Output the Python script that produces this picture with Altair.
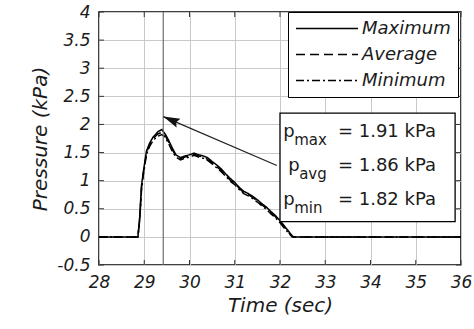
import math
import altair as alt
import pandas as pd

# ---------------- data ----------------
time_s = [28.0, 28.86, 28.9, 28.94, 28.98, 29.05, 29.12, 29.2, 29.3, 29.39, 29.47,
          29.55, 29.62, 29.7, 29.8, 29.9, 30.0, 30.1, 30.2, 30.3, 30.4, 30.5, 30.6,
          30.7, 30.8, 30.9, 31.0, 31.1, 31.2, 31.3, 31.4, 31.5, 31.6, 31.7, 31.8,
          31.9, 32.0, 32.1, 32.2, 32.27, 32.3, 33.0, 34.0, 35.0, 36.0]
p_max = [0.0, 0.0, 0.36, 0.92, 1.16, 1.53, 1.67, 1.78, 1.87, 1.91, 1.82,
         1.70, 1.58, 1.46, 1.41, 1.44, 1.46, 1.49, 1.46, 1.44, 1.41, 1.34, 1.28,
         1.21, 1.12, 1.04, 0.97, 0.88, 0.81, 0.77, 0.72, 0.66, 0.59, 0.53, 0.45,
         0.38, 0.29, 0.19, 0.09, 0.02, 0.0, 0.0, 0.0, 0.0, 0.0]
p_avg = [0.0, 0.0, 0.33, 0.88, 1.13, 1.50, 1.64, 1.75, 1.83, 1.86, 1.79,
         1.67, 1.55, 1.44, 1.39, 1.42, 1.44, 1.47, 1.44, 1.42, 1.38, 1.32, 1.25,
         1.18, 1.10, 1.01, 0.95, 0.86, 0.79, 0.75, 0.70, 0.64, 0.57, 0.51, 0.43,
         0.36, 0.27, 0.17, 0.07, 0.01, 0.0, 0.0, 0.0, 0.0, 0.0]
p_min = [0.0, 0.0, 0.30, 0.84, 1.10, 1.47, 1.61, 1.72, 1.79, 1.82, 1.76,
         1.64, 1.52, 1.42, 1.37, 1.40, 1.42, 1.45, 1.42, 1.40, 1.36, 1.30, 1.23,
         1.16, 1.08, 0.99, 0.93, 0.84, 0.77, 0.73, 0.68, 0.62, 0.55, 0.49, 0.41,
         0.34, 0.25, 0.15, 0.06, 0.0, 0.0, 0.0, 0.0, 0.0, 0.0]
series_names = ["Maximum", "Average", "Minimum"]

x_ticks = [28, 29, 30, 31, 32, 33, 34, 35, 36]
y_ticks = [-0.5, 0, 0.5, 1, 1.5, 2, 2.5, 3, 3.5, 4]

peak_time = [29.42]
arrow_t = [31.93, 29.42]
arrow_p = [1.27, 2.14]
box_t = [32.0, 35.87]
box_p = [0.27, 2.2]
ann_sym = ["p", "p", "p"]
ann_sub = ["max", "avg", "min"]
ann_val = ["= 1.91 kPa", "= 1.86 kPa", "= 1.82 kPa"]
ann_row_p = [1.78, 1.17, 0.57]
ann_sym_t = [32.07, 32.18, 32.07]
ann_val_t = [33.28, 33.28, 33.28]

# ---------------- layout ----------------
W, H = 362, 253
X_DOM = [28, 36]
Y_DOM = [-0.5, 4]
FONT = "DejaVu Sans"
TXT = "#1b1b1b"

rows = []
for name, vals in zip(series_names, [p_max, p_avg, p_min]):
    for t, p in zip(time_s, vals):
        rows.append({"t": t, "p": p, "series": name})
lines_df = pd.DataFrame(rows)

xscale = alt.Scale(domain=X_DOM, nice=False, zero=False)
yscale = alt.Scale(domain=Y_DOM, nice=False, zero=False)

x_axis = alt.Axis(values=x_ticks, grid=True, gridColor="#c9c9c9", gridWidth=1,
                  ticks=False, domain=False, labelFont=FONT, labelFontStyle="italic",
                  labelFontSize=17, labelColor=TXT, labelPadding=9, labelFlush=False,
                  labelOverlap=False, title="Time (sec)", titleFont=FONT,
                  titleFontStyle="italic", titleFontWeight="normal", titleFontSize=20,
                  titleColor=TXT, titlePadding=5)
y_axis = alt.Axis(values=y_ticks, grid=True, gridColor="#c9c9c9", gridWidth=1,
                  ticks=False, domain=False, labelFont=FONT, labelFontStyle="italic",
                  labelFontSize=17, labelColor=TXT, labelPadding=9, labelFlush=False,
                  labelOverlap=False, labelExpr="'' + datum.value",
                  title="Pressure (kPa)", titleFont=FONT, titleFontStyle="italic",
                  titleFontWeight="normal", titleFontSize=20, titleColor=TXT,
                  titlePadding=6)

X = alt.X("t:Q", scale=xscale, axis=x_axis)
Y = alt.Y("p:Q", scale=yscale, axis=y_axis)

lines = alt.Chart(lines_df).mark_line(color="black", strokeWidth=1.5).encode(
    x=X, y=Y,
    strokeDash=alt.StrokeDash(
        "series:N",
        scale=alt.Scale(domain=series_names, range=[[1, 0], [9, 5], [8, 3, 2, 3]]),
        sort=series_names,
        legend=alt.Legend(
            title=None, orient="none", legendX=189, legendY=0,
            strokeColor="black", fillColor="white", padding=7,
            symbolType="stroke", symbolSize=3844, symbolStrokeWidth=1.3,
            symbolStrokeColor="black", labelFont=FONT, labelFontStyle="italic",
            labelFontSize=18, labelColor=TXT, labelOffset=3, rowPadding=7,
            clipHeight=19,
        ),
    ),
    order=alt.Order("t:Q"),
)

rule = alt.Chart(pd.DataFrame({"t": peak_time})).mark_rule(
    color="#6e6e6e", strokeWidth=1.2).encode(x=X)

arrow_df = pd.DataFrame({"t": arrow_t, "p": arrow_p, "k": [0, 1]})
arrow_line = alt.Chart(arrow_df).mark_line(color="#222", strokeWidth=1.3).encode(
    x=X, y=Y, order="k:Q")

px_per_t = W / (X_DOM[1] - X_DOM[0])
px_per_p = H / (Y_DOM[1] - Y_DOM[0])
dx = (arrow_t[1] - arrow_t[0]) * px_per_t
dy = -(arrow_p[1] - arrow_p[0]) * px_per_p
ang = math.degrees(math.atan2(dx, -dy)) % 360

head = alt.Chart(pd.DataFrame({"t": [arrow_t[1]], "p": [arrow_p[1]]})).mark_point(
    shape="M0,0L0.5,1.7L0,1.45L-0.5,1.7Z", size=380, angle=ang, filled=True,
    color="#111", opacity=1, strokeWidth=0).encode(x=X, y=Y)

box = alt.Chart(pd.DataFrame({"t": [box_t[0]], "t2": [box_t[1]],
                              "p": [box_p[0]], "p2": [box_p[1]]})).mark_rect(
    fill="white", stroke="black", strokeWidth=1.3).encode(
    x=X, x2="t2:Q", y=Y, y2="p2:Q")

ann_df = pd.DataFrame({"t": ann_sym_t, "p": ann_row_p, "sym": ann_sym,
                       "sub": ann_sub, "tv": ann_val_t, "val": ann_val})
ann_p = alt.Chart(ann_df).mark_text(font=FONT, fontSize=18, color=TXT, align="left",
                                    baseline="alphabetic").encode(x=X, y=Y, text="sym:N")
ann_sub_t = alt.Chart(ann_df).mark_text(font=FONT, fontSize=15, color=TXT, align="left",
                                        baseline="alphabetic", dx=11, dy=8).encode(
    x=X, y=Y, text="sub:N")
ann_v = alt.Chart(ann_df).mark_text(font=FONT, fontSize=18, color=TXT, align="left",
                                    baseline="alphabetic").encode(
    x=alt.X("tv:Q", scale=xscale, axis=x_axis), y=Y, text="val:N")

# inward tick marks on all four sides
bt = pd.DataFrame({"t": x_ticks, "p": [Y_DOM[0]] * len(x_ticks)})
tt = pd.DataFrame({"t": x_ticks, "p": [Y_DOM[1]] * len(x_ticks)})
lt = pd.DataFrame({"t": [X_DOM[0]] * len(y_ticks), "p": y_ticks})
rt = pd.DataFrame({"t": [X_DOM[1]] * len(y_ticks), "p": y_ticks})
tick_style = dict(size=5, thickness=1, color="#333", opacity=1)
ticks = [
    alt.Chart(bt).mark_tick(orient="vertical", yOffset=-2.5, **tick_style).encode(x=X, y=Y),
    alt.Chart(tt).mark_tick(orient="vertical", yOffset=2.5, **tick_style).encode(x=X, y=Y),
    alt.Chart(lt).mark_tick(orient="horizontal", xOffset=2.5, **tick_style).encode(x=X, y=Y),
    alt.Chart(rt).mark_tick(orient="horizontal", xOffset=-2.5, **tick_style).encode(x=X, y=Y),
]

chart = alt.layer(
    *ticks, lines, rule, arrow_line, head, box, ann_p, ann_sub_t, ann_v
).properties(
    width=W, height=H,
    autosize=alt.AutoSizeParams(type="none"),
    padding={"left": 99, "top": 12, "right": 13, "bottom": 64},
).configure_view(stroke="black", strokeWidth=1.5)

chart.save("out.html", embed_options={"renderer": "svg", "actions": False})
